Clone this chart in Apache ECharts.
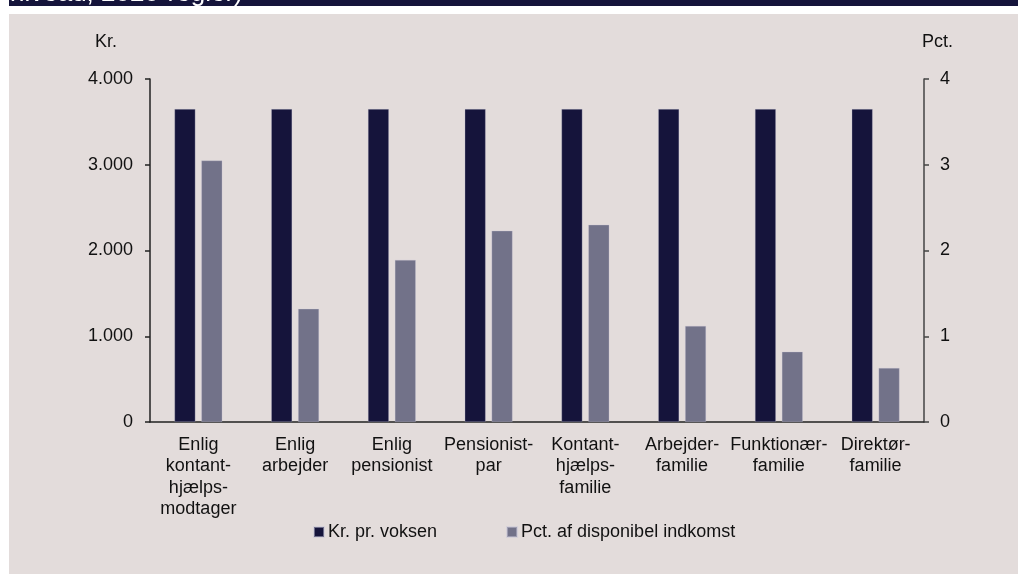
<!DOCTYPE html>
<html>
<head>
<meta charset="utf-8">
<script src="https://cdn.jsdelivr.net/npm/echarts@6/dist/echarts.min.js"></script>
<style>
  html, body { margin: 0; padding: 0; background: #fff; }
  #chart { width: 1018px; height: 574px; }
</style>
</head>
<body>
<div id="chart"></div>
<script>
// categories and values
var categories = [
  'Enlig\nkontant-\nhjælps-\nmodtager',
  'Enlig\narbejder',
  'Enlig\npensionist',
  'Pensionist-\npar',
  'Kontant-\nhjælps-\nfamilie',
  'Arbejder-\nfamilie',
  'Funktionær-\nfamilie',
  'Direktør-\nfamilie'
];
var krPrVoksen = [3650, 3650, 3650, 3650, 3650, 3650, 3650, 3650];
var pctDisponibel = [3.05, 1.32, 1.89, 2.23, 2.30, 1.12, 0.82, 0.63];
var seriesNames = ['Kr. pr. voksen', 'Pct. af disponibel indkomst'];

var font = '"Liberation Sans", Arial, sans-serif';
var navy = '#15143b';
var grey = '#727289';
var panel = '#e3dcdb';

function thousands(v) {
  return String(v).replace(/\B(?=(\d{3})+(?!\d))/g, '.');
}

var chart = echarts.init(document.getElementById('chart'));
chart.setOption({
  backgroundColor: '#ffffff',
  animation: false,
  textStyle: { fontFamily: font },
  graphic: [
    { type: 'rect', z: -10, shape: { x: 9, y: 0, width: 1009, height: 6 }, style: { fill: navy } },
    { type: 'text', z: -8, left: 10, top: -19, style: { text: 'niveau, 2020-regler)', fill: '#ffffff', font: '26px ' + font } },
    // white strip hides the part of the title below the band
    { type: 'rect', z: -7, shape: { x: 0, y: 6, width: 1018, height: 8 }, style: { fill: '#ffffff' } },
    { type: 'rect', z: -7, shape: { x: 9, y: 14, width: 1009, height: 560 }, style: { fill: panel } },
    { type: 'text', left: 95, top: 33, style: { text: 'Kr.', fill: '#111', font: '18px ' + font } },
    { type: 'text', left: 922, top: 33, style: { text: 'Pct.', fill: '#111', font: '18px ' + font } }
  ],
  grid: { left: 150, right: 94, top: 79, bottom: 152 },
  legend: {
    left: 313, top: 523, padding: 0,
    itemWidth: 10, itemHeight: 10, itemGap: 69,
    icon: 'rect',
    textStyle: { fontSize: 18, color: '#111', fontFamily: font, padding: [0, 0, 0, -1] },
    data: seriesNames
  },
  xAxis: {
    type: 'category',
    data: categories,
    axisLine: { lineStyle: { color: '#222', width: 1.5 } },
    axisTick: { length: 5, lineStyle: { color: '#222', width: 1.5 } },
    axisLabel: { interval: 0, margin: 12, fontSize: 18, lineHeight: 21.5, color: '#111', fontFamily: font }
  },
  yAxis: [
    {
      type: 'value', min: 0, max: 4000, interval: 1000,
      axisLine: { show: true, lineStyle: { color: '#222', width: 1.5 } },
      axisTick: { show: true, length: 5, lineStyle: { color: '#222', width: 1.5 } },
      splitLine: { show: false },
      axisLabel: { fontSize: 18, color: '#111', margin: 17, fontFamily: font, formatter: thousands }
    },
    {
      type: 'value', min: 0, max: 4, interval: 1,
      axisLine: { show: true, lineStyle: { color: '#444', width: 1.5 } },
      axisTick: { show: true, length: 5, lineStyle: { color: '#444', width: 1.5 } },
      splitLine: { show: false },
      axisLabel: { fontSize: 18, color: '#111', margin: 16, fontFamily: font }
    }
  ],
  series: [
    {
      name: seriesNames[0], type: 'bar', yAxisIndex: 0,
      barWidth: 21, barGap: '28%',
      itemStyle: { color: navy, borderColor: 'rgba(200,198,215,0.5)', borderWidth: 0.6 },
      data: krPrVoksen
    },
    {
      name: seriesNames[1], type: 'bar', yAxisIndex: 1,
      barWidth: 21,
      itemStyle: { color: grey, borderColor: 'rgba(200,198,215,0.5)', borderWidth: 0.6 },
      data: pctDisponibel
    }
  ]
});
</script>
</body>
</html>
